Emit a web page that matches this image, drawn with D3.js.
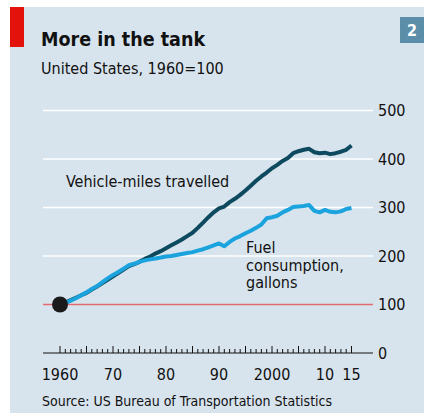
<!DOCTYPE html>
<html>
<head>
<meta charset="utf-8">
<script src="https://cdn.jsdelivr.net/npm/d3@7"></script>
<style>
  body { margin: 0; background: #fff; }
  text { font-family: "DejaVu Sans Condensed", "Roboto", sans-serif; }
</style>
</head>
<body>
<div id="chart"></div>
<script>
// Data: index, 1960=100
const years = d3.range(1960, 2016);
const vehicleMiles = [
  100, 104, 109, 114, 119, 124, 131, 137, 144, 151,
  158, 165, 172, 179, 183, 188, 194, 199, 205, 210,
  216, 222, 228, 234, 241, 248, 258, 269, 280, 290,
  298, 302, 311, 318, 326, 335, 345, 355, 364, 372,
  381, 388, 396, 402, 412, 416, 419, 421, 414, 412,
  413, 410, 412, 415, 419, 428
];
const fuel = [
  100, 103, 108, 113, 119, 125, 132, 138, 146, 154,
  161, 167, 174, 181, 184, 188, 191, 193, 195, 197,
  199, 200, 202, 204, 206, 208, 211, 214, 218, 222,
  226, 220, 229, 236, 241, 247, 252, 258, 265, 278,
  280, 283, 290, 295, 301, 302, 303, 305, 293, 290,
  295, 291, 290, 292, 297, 299
];
const yTicks = [0, 100, 200, 300, 400, 500];
const xLabels = [
  { year: 1960, label: "1960" }, { year: 1970, label: "70" },
  { year: 1980, label: "80" }, { year: 1990, label: "90" },
  { year: 2000, label: "2000" }, { year: 2010, label: "10" },
  { year: 2015, label: "15" }
];

const W = 424, H = 417;
const svg = d3.select("#chart").append("svg")
  .attr("width", W)
  .attr("height", H);

// panel background
svg.append("rect")
  .attr("x", 10).attr("y", 7)
  .attr("width", W - 10).attr("height", 406)
  .attr("fill", "#d8e4ed");

// red tag
svg.append("rect")
  .attr("x", 10).attr("y", 7)
  .attr("width", 14).attr("height", 40)
  .attr("fill", "#e3120b");

// chart number box
svg.append("rect")
  .attr("x", 400).attr("y", 17)
  .attr("width", 24).attr("height", 26)
  .attr("fill", "#5b8ea9");
svg.append("text")
  .attr("x", 412).attr("y", 36)
  .attr("text-anchor", "middle")
  .attr("fill", "#fff")
  .attr("font-weight", "bold")
  .attr("font-size", 16)
  .text("2");

// titles
svg.append("text")
  .attr("x", 41).attr("y", 46)
  .attr("font-weight", "bold")
  .attr("font-size", 19.5)
  .attr("fill", "#111")
  .text("More in the tank");
svg.append("text")
  .attr("x", 41).attr("y", 74)
  .attr("font-size", 16)
  .attr("fill", "#111")
  .text("United States, 1960=100");

// scales
const x = d3.scaleLinear().domain([1960, 2015]).range([60, 351.5]);
const y = d3.scaleLinear().domain([0, 500]).range([353, 110.5]);

// gridlines
svg.append("g")
  .selectAll("line")
  .data(yTicks.filter(d => d > 100))
  .join("line")
  .attr("x1", 43).attr("x2", 373)
  .attr("y1", d => y(d)).attr("y2", d => y(d))
  .attr("stroke", "#fff")
  .attr("stroke-width", 1.5);

// 100 baseline
svg.append("line")
  .attr("x1", 43).attr("x2", 373)
  .attr("y1", y(100)).attr("y2", y(100))
  .attr("stroke", "#e06b70")
  .attr("stroke-width", 1.5);

// y labels
svg.append("g")
  .selectAll("text")
  .data(yTicks)
  .join("text")
  .attr("x", 378)
  .attr("y", d => y(d))
  .attr("dy", "0.36em")
  .attr("font-size", 16)
  .attr("fill", "#111")
  .text(d => d);

// x axis
const xAxis = svg.append("g")
  .attr("transform", `translate(0,${y(0)})`);
xAxis.append("line")
  .attr("x1", 43).attr("x2", 373)
  .attr("stroke", "#111")
  .attr("stroke-width", 1);
xAxis.selectAll(".tick")
  .data(years)
  .join("line")
  .attr("x1", d => x(d)).attr("x2", d => x(d))
  .attr("y1", 0)
  .attr("y2", d => d % 5 === 0 ? -7 : -4)
  .attr("stroke", "#111")
  .attr("stroke-width", 1);
xAxis.selectAll(".lbl")
  .data(xLabels)
  .join("text")
  .attr("x", d => x(d.year))
  .attr("y", 27)
  .attr("text-anchor", "middle")
  .attr("font-size", 16)
  .attr("fill", "#111")
  .text(d => d.label);

// lines
const line = d3.line()
  .x((d, i) => x(years[i]))
  .y(d => y(d));

svg.append("path")
  .datum(vehicleMiles)
  .attr("d", line)
  .attr("fill", "none")
  .attr("stroke", "#0d4a5f")
  .attr("stroke-width", 4)
  .attr("stroke-linejoin", "round");

svg.append("path")
  .datum(fuel)
  .attr("d", line)
  .attr("fill", "none")
  .attr("stroke", "#1ba3de")
  .attr("stroke-width", 4)
  .attr("stroke-linejoin", "round");

// start dot
svg.append("circle")
  .attr("cx", x(1960)).attr("cy", y(100))
  .attr("r", 8)
  .attr("fill", "#1a1a1a");

// series labels
svg.append("text")
  .attr("x", 66).attr("y", 187)
  .attr("font-size", 16)
  .attr("fill", "#111")
  .text("Vehicle-miles travelled");

svg.append("text")
  .attr("font-size", 16)
  .attr("fill", "#111")
  .selectAll("tspan")
  .data(["Fuel", "consumption,", "gallons"])
  .join("tspan")
  .attr("x", 246)
  .attr("y", (d, i) => 253 + i * 17.5)
  .text(d => d);

// source
svg.append("text")
  .attr("x", 42).attr("y", 406)
  .attr("font-size", 14)
  .attr("fill", "#111")
  .text("Source: US Bureau of Transportation Statistics");
</script>
</body>
</html>
